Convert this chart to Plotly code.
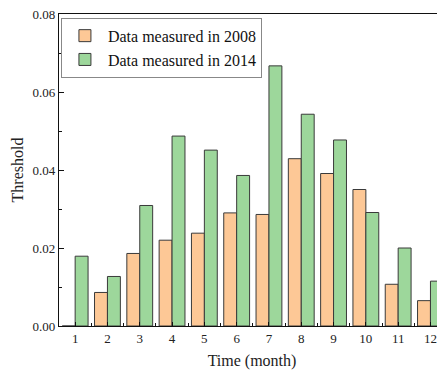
import plotly.graph_objects as go

months = [1, 2, 3, 4, 5, 6, 7, 8, 9, 10, 11, 12]
data_2008 = [0.0, 0.0086, 0.0186, 0.0220, 0.0238, 0.0290, 0.0286, 0.0429, 0.0391, 0.0350, 0.0107, 0.0065]
data_2014 = [0.0179, 0.0127, 0.0309, 0.0487, 0.0451, 0.0386, 0.0667, 0.0543, 0.0477, 0.0291, 0.0200, 0.0115]
y_ticks = [0.00, 0.02, 0.04, 0.06, 0.08]
y_labels = ["0.00", "0.02", "0.04", "0.06", "0.08"]

font_family = "Liberation Serif"

fig = go.Figure()
fig.add_trace(go.Bar(x=months, y=data_2008, name="Data measured in 2008",
                     marker=dict(color="#FDC896", line=dict(color="#3a3a3a", width=1))))
fig.add_trace(go.Bar(x=months, y=data_2014, name="Data measured in 2014",
                     marker=dict(color="#9DD79B", line=dict(color="#3a3a3a", width=1))))

# page body has an 8px default margin, so the figure is laid out 8px smaller
fig.update_layout(
    width=437, height=365,
    margin=dict(l=51, r=0, t=6, b=47, autoexpand=False),
    paper_bgcolor="white", plot_bgcolor="white",
    barmode="group", bargap=0.2, bargroupgap=0.0,
    font=dict(family=font_family, size=13, color="#222"),
    legend=dict(x=0.005, y=0.988, xanchor="left", yanchor="top",
                bgcolor="white", bordercolor="#888", borderwidth=1,
                font=dict(size=16, family=font_family, color="#111"),
                tracegroupgap=0, itemwidth=36),
    showlegend=True,
)
fig.update_xaxes(
    range=[0.5, 12.45], tickvals=months, ticktext=[str(m) for m in months],
    showline=True, linecolor="#111", linewidth=1.2, mirror=True,
    ticks="inside", ticklen=4, tickcolor="#111",
    minor=dict(ticks="inside", tick0=0.5, dtick=1, ticklen=3, tickcolor="#111"),
    showgrid=False, zeroline=False, automargin=False,
    title=dict(text="Time (month)", font=dict(size=16, family=font_family), standoff=10),
    tickfont=dict(size=13, family=font_family),
)
fig.update_yaxes(
    range=[0, 0.08], tickvals=y_ticks, ticktext=y_labels,
    showline=True, linecolor="#111", linewidth=1.2,
    ticks="inside", ticklen=5, tickcolor="#111", ticklabeloverflow="allow",
    minor=dict(ticks="inside", tick0=0.01, dtick=0.02, ticklen=3, tickcolor="#111"),
    showgrid=False, zeroline=False, automargin=False,
    title=dict(text="Threshold", font=dict(size=16, family=font_family), standoff=4),
    tickfont=dict(size=13, family=font_family),
)

fig.write_html("out.html")
